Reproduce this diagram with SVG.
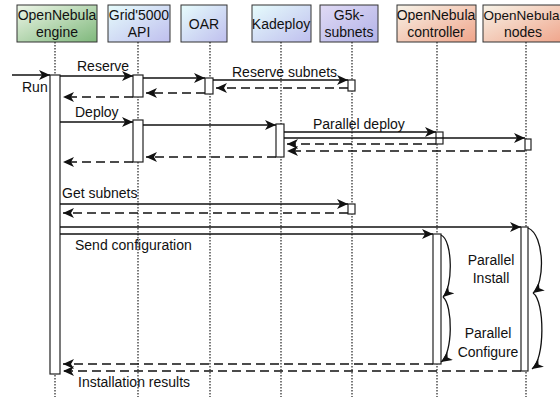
<svg xmlns="http://www.w3.org/2000/svg" width="560" height="399" viewBox="0 0 560 399">
<style>
text{font-family:"Liberation Sans",Arial,sans-serif;font-size:14px;fill:#111}
.hdr{stroke:#333;stroke-width:1}
.life{stroke:#222;stroke-width:1.2;stroke-dasharray:1.5 1.5;fill:none}
.act{fill:#fff;stroke:#222;stroke-width:1.2}
.call{stroke:#111;stroke-width:1.4;fill:none;marker-end:url(#ah)}
.ret{stroke:#111;stroke-width:1.6;fill:none;stroke-dasharray:9 5;marker-end:url(#ah)}
.self{stroke:#111;stroke-width:1.3;fill:none;marker-end:url(#ah)}
.c{text-anchor:middle}
</style>
<defs>
<linearGradient id="gGreen" x1="0" y1="0" x2="1" y2="1"><stop offset="0" stop-color="#eef6e8"/><stop offset="1" stop-color="#7fb87c"/></linearGradient>
<linearGradient id="gCyan" x1="0" y1="0" x2="1" y2="1"><stop offset="0" stop-color="#e6fcfc"/><stop offset="1" stop-color="#bfbfee"/></linearGradient>
<linearGradient id="gPurple" x1="0" y1="0" x2="1" y2="1"><stop offset="0" stop-color="#e0daf4"/><stop offset="1" stop-color="#b2b2e8"/></linearGradient>
<linearGradient id="gPeach" x1="0" y1="0" x2="1" y2="1"><stop offset="0" stop-color="#f7f3e8"/><stop offset="1" stop-color="#f0a48a"/></linearGradient>
<marker id="ah" markerWidth="12" markerHeight="10" refX="11" refY="5" orient="auto" markerUnits="userSpaceOnUse"><path d="M0,0 L11,5 L0,10 L3,5 z" fill="#111"/></marker>
</defs>

<g id="engine">
<rect class="hdr" x="17" y="5" width="80" height="37" fill="url(#gGreen)"/>
<text class="c" x="57" y="20">OpenNebula</text><text class="c" x="57" y="37">engine</text>
<line class="life" x1="55" y1="42" x2="55" y2="397"/>
<rect class="act" x="50" y="75" width="10" height="299"/>
</g>
<g id="grid5000">
<rect class="hdr" x="108" y="5" width="62" height="37" fill="url(#gCyan)"/>
<text class="c" x="139" y="20">Grid'5000</text><text class="c" x="139" y="37">API</text>
<line class="life" x1="138" y1="42" x2="138" y2="397"/>
<rect class="act" x="133" y="75" width="10" height="22"/>
<rect class="act" x="133" y="120" width="10" height="42"/>
</g>
<g id="oar">
<rect class="hdr" x="181" y="5" width="46" height="37" fill="url(#gCyan)"/>
<text class="c" x="204" y="29">OAR</text>
<line class="life" x1="210" y1="42" x2="210" y2="397"/>
<rect class="act" x="205" y="78" width="8" height="16"/>
</g>
<g id="kadeploy">
<rect class="hdr" x="252" y="5" width="59" height="37" fill="url(#gCyan)"/>
<text class="c" x="281" y="29">Kadeploy</text>
<line class="life" x1="281" y1="42" x2="281" y2="397"/>
<rect class="act" x="276" y="124" width="8" height="33"/>
</g>
<g id="g5ksubnets">
<rect class="hdr" x="320" y="5" width="58" height="37" fill="url(#gPurple)"/>
<text class="c" x="349" y="20">G5k-</text><text class="c" x="349" y="37">subnets</text>
<line class="life" x1="352" y1="42" x2="352" y2="397"/>
<rect class="act" x="348" y="80" width="7" height="11"/>
<rect class="act" x="348" y="204" width="7" height="10"/>
</g>
<g id="controller">
<rect class="hdr" x="397" y="5" width="79" height="37" fill="url(#gPeach)"/>
<text class="c" x="436" y="20">OpenNebula</text><text class="c" x="436" y="37">controller</text>
<line class="life" x1="437" y1="42" x2="437" y2="397"/>
<rect class="act" x="436" y="132" width="7" height="12"/>
<rect class="act" x="433" y="234" width="8" height="130"/>
</g>
<g id="nodes">
<rect class="hdr" x="483" y="5" width="82" height="37" fill="url(#gPeach)"/>
<text class="c" x="521.5" y="20" style="font-size:13.5px">OpenNebula</text><text class="c" x="523" y="37">nodes</text>
<line class="life" x1="526" y1="42" x2="526" y2="397"/>
<rect class="act" x="525" y="139" width="6" height="11"/>
<rect class="act" x="521" y="227" width="7" height="144"/>
</g>

<g id="connectors">
<path class="call" d="M12,75 H50"/>
<path class="call" d="M60,76 H133"/>
<path class="call" d="M143,78 H205"/>
<path class="call" d="M213,80 H348"/>
<path class="ret" d="M348,88 H216"/>
<path class="ret" d="M205,93 H146"/>
<path class="ret" d="M133,97 H63"/>
<path class="call" d="M60,122 H133"/>
<path class="call" d="M143,125 H276"/>
<path class="call" d="M284,132 H436"/>
<path class="call" d="M284,138 H525"/>
<path class="ret" d="M436,144 H287"/>
<path class="ret" d="M525,151 H287"/>
<path class="ret" d="M276,157 H146"/>
<path class="ret" d="M133,162 H63"/>
<path class="call" d="M60,204 H348"/>
<path class="ret" d="M348,213 H63"/>
<path class="call" d="M60,227 H521"/>
<path class="call" d="M60,234 H433"/>
<path class="ret" d="M433,364 H63"/>
<path class="ret" d="M521,371 H63"/>
<path class="self" d="M441,235 C453,240 453,288 443,297"/>
<path class="self" d="M443,297 C453,305 453,354 441,362"/>
<path class="self" d="M528,228 C545,235 545,284 533,293"/>
<path class="self" d="M533,293 C545,301 545,360 532,369"/>
</g>

<g id="labels">
<text x="22" y="92">Run</text>
<text x="77" y="71">Reserve</text>
<text x="232" y="77">Reserve subnets</text>
<text x="75" y="117">Deploy</text>
<text x="313" y="129">Parallel deploy</text>
<text x="62" y="198">Get subnets</text>
<text x="75" y="250">Send configuration</text>
<text x="78" y="387">Installation results</text>
<text class="c" x="491" y="265">Parallel</text>
<text class="c" x="491" y="283">Install</text>
<text class="c" x="488" y="338">Parallel</text>
<text class="c" x="488" y="357">Configure</text>
</g>
</svg>
